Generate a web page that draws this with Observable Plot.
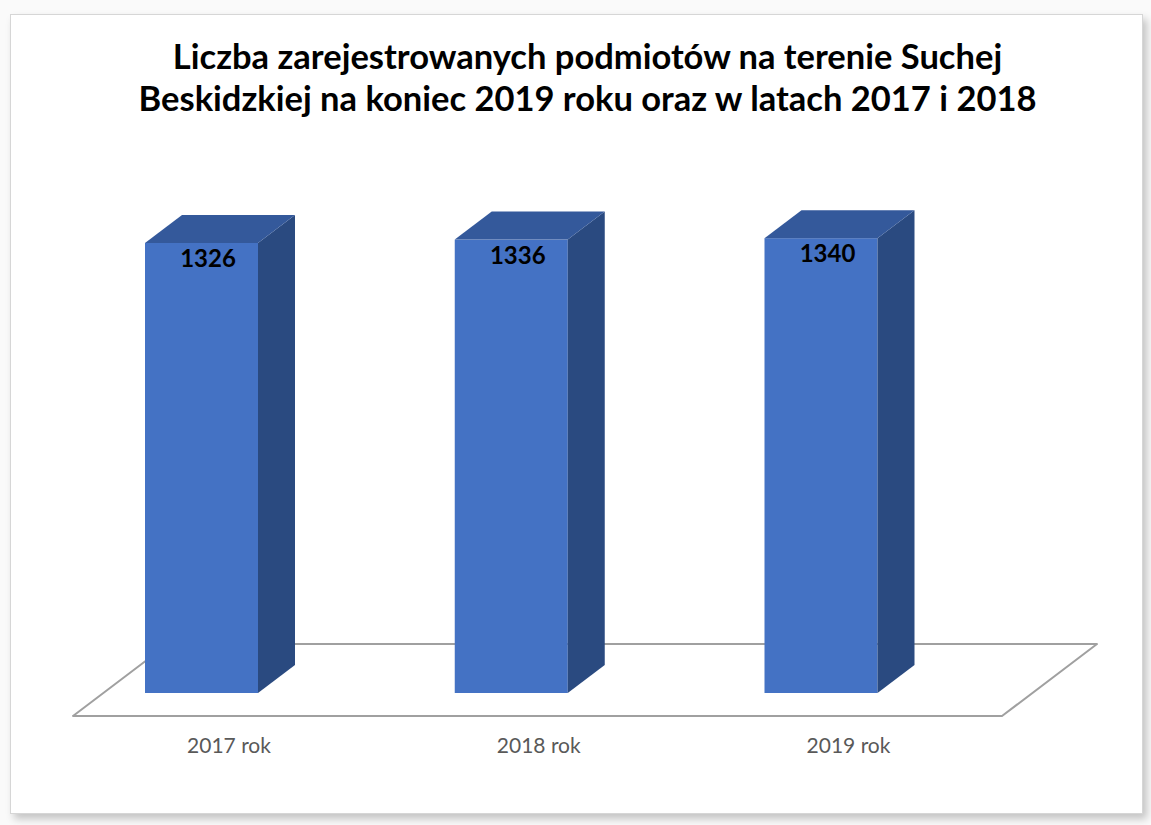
<!DOCTYPE html>
<html>
<head>
<meta charset="utf-8">
<script src="https://cdn.jsdelivr.net/npm/d3@7"></script>
<script src="https://cdn.jsdelivr.net/npm/@observablehq/plot@0.6"></script>
<style>
  html, body { margin: 0; padding: 0; background: #ffffff; }
  #page { position: relative; width: 1151px; height: 825px; overflow: hidden; background: #fafafa; }
  #frame { position: absolute; left: 10px; top: 14px; width: 1131px; height: 798px; background: #ffffff;
           border: 1px solid #d6d6d6; box-shadow: 4px 5px 8px rgba(0,0,0,0.22); }
  #title { position: absolute; left: 22px; top: 35px; width: 1131px; text-align: center;
           font-family: Lato, "Open Sans", sans-serif; font-weight: 700; font-size: 34.5px; line-height: 42px; color: #000; }
  #chart { position: absolute; left: 0; top: 140px; }
</style>
</head>
<body>
<div id="page">
  <div id="frame"></div>
  <div id="title">Liczba zarejestrowanych podmiotów na terenie Suchej<br>Beskidzkiej na koniec 2019 roku oraz w latach 2017 i 2018</div>
  <div id="chart"></div>
</div>
<script>
// ---- data ----
const categories = ["2017 rok", "2018 rok", "2019 rok"];
const values = [1326, 1336, 1340];

// ---- geometry (pixels) ----
const W = 1151, H = 685;
const xRange = [201.5, 821];              // centres of first and last bar fronts
const kx = (xRange[1] - xRange[0]) / 2;    // px per category step
const baseY = 553, ky = 0.3394;            // baseline and px per unit
const yDomain = [0, 1450];
const yRange = [baseY, baseY - yDomain[1] * ky];

const half = 56.5 / kx;                    // half bar width (x units)
const ddx = 37 / kx, ddy = 28 / ky;        // bar depth
const floorFront = -23 / ky, floorBack = 49 / ky;
const floorLeft = (73 - xRange[0]) / kx, floorRight = (1002 - xRange[0]) / kx, floorSkew = 95 / kx;

const bars = categories.map((c, i) => ({i, c, v: values[i]}));
const floor = [
  {y: floorFront, x1: floorLeft, x2: floorRight},
  {y: floorBack, x1: floorLeft + floorSkew, x2: floorRight + floorSkew}
];
const sides = bars.flatMap(d => [
  {z: d.i, x: d.i + half, y1: 0, y2: d.v},
  {z: d.i, x: d.i + half + ddx, y1: ddy, y2: d.v + ddy}
]);
const tops = bars.flatMap(d => [
  {z: d.i, y: d.v, x1: d.i - half, x2: d.i + half},
  {z: d.i, y: d.v + ddy, x1: d.i - half + ddx, x2: d.i + half + ddx}
]);

const chart = Plot.plot({
  width: W,
  height: H,
  marginTop: 0, marginBottom: 0, marginLeft: 0, marginRight: 0,
  x: {type: "linear", domain: [0, 2], range: xRange, axis: null},
  y: {type: "linear", domain: yDomain, range: yRange, axis: null},
  style: {background: "transparent", overflow: "visible"},
  marks: [
    Plot.areaX(floor, {y: "y", x1: "x1", x2: "x2", fill: "#ffffff", stroke: "#a0a0a0", strokeWidth: 2}),
    Plot.rect(bars, {x1: d => d.i - half, x2: d => d.i + half, y1: 0, y2: "v", fill: "#4472C4"}),
    Plot.areaY(sides, {x: "x", y1: "y1", y2: "y2", z: "z", fill: "#2A4A80"}),
    Plot.areaX(tops, {y: "y", x1: "x1", x2: "x2", z: "z", fill: "#34599B"}),
    Plot.text(bars, {x: "i", y: "v", text: d => String(d.v), dx: 6, dy: 16, lineAnchor: "middle",
      fontFamily: "Lato, sans-serif", fontWeight: 700, fontSize: 24, fill: "#000000"}),
    Plot.text(bars, {x: "i", y: 0, text: "c", dx: 27, dy: 53, lineAnchor: "middle",
      fontFamily: "Lato, sans-serif", fontSize: 21, fill: "#595959"})
  ]
});
document.getElementById("chart").appendChild(chart);
</script>
</body>
</html>
